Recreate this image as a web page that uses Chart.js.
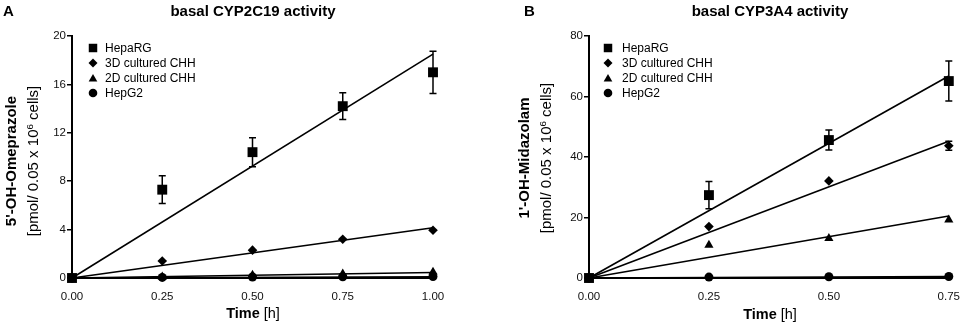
<!DOCTYPE html>
<html>
<head>
<meta charset="utf-8">
<script src="https://cdn.jsdelivr.net/npm/chart.js@4/dist/chart.umd.min.js"></script>
<style>
  html, body { margin:0; padding:0; background:#fff; }
  body { width:964px; height:324px; position:relative; overflow:hidden; font-family:"Liberation Sans", Arial, sans-serif; color:#000; }
  .pane { position:absolute; top:0; width:482px; height:324px; }
  .txt { position:absolute; white-space:nowrap; line-height:1; }
  .c { transform:translate(-50%,-50%); }
  .rot { transform:translate(-50%,-50%) rotate(-90deg); }
  .sup { font-size:0.65em; position:relative; top:-0.55em; }
</style>
</head>
<body>
<div class="pane" style="left:0"><canvas id="cA" width="482" height="324"></canvas></div>
<div class="pane" style="left:482px"><canvas id="cB" width="482" height="324"></canvas></div>

<div class="txt" style="left:3px;top:3px;font-size:15px;font-weight:bold">A</div>
<div class="txt c" style="left:253px;top:10px;font-size:15px;font-weight:bold">basal CYP2C19 activity</div>
<div class="txt rot" style="left:10px;top:161px;font-size:15px;font-weight:bold">5'-OH-Omeprazole</div>
<div class="txt rot" style="left:32px;top:161px;font-size:15px">[pmol/ 0.05 x 10<span class="sup">6</span> cells]</div>
<div class="txt c" style="left:253px;top:313px;font-size:14.5px"><b>Time</b> [h]</div>

<div class="txt" style="left:524px;top:3px;font-size:15px;font-weight:bold">B</div>
<div class="txt c" style="left:770px;top:10px;font-size:15px;font-weight:bold">basal CYP3A4 activity</div>
<div class="txt rot" style="left:523px;top:158px;font-size:15px;font-weight:bold">1'-OH-Midazolam</div>
<div class="txt rot" style="left:545px;top:158px;font-size:15px">[pmol/ 0.05 x 10<span class="sup">6</span> cells]</div>
<div class="txt c" style="left:770px;top:314px;font-size:14.5px"><b>Time</b> [h]</div>

<script>
// ---------- DATA ----------
const seriesNames = ["HepaRG", "3D cultured CHH", "2D cultured CHH", "HepG2"];

// Panel A: basal CYP2C19 activity (5'-OH-Omeprazole)
const timesA = [0, 0.25, 0.50, 0.75, 1.00];
const hepaRG_A = [0, 7.3, 10.4, 14.2, 17.0];
const hepaRG_A_err = [0, 1.15, 1.2, 1.1, 1.75];
const cult3D_A = [0, 1.4, 2.3, 3.2, 3.95];
const cult2D_A = [0, 0.1, 0.25, 0.35, 0.5];
const hepG2_A = [0, 0.05, 0.08, 0.1, 0.12];
const fitEndA = [18.5, 4.15, 0.45, 0.1];   // regression line values at last time
const yTicksA = [0, 4, 8, 12, 16, 20];
const xTicksA = [0, 0.25, 0.5, 0.75, 1.0];

// Panel B: basal CYP3A4 activity (1'-OH-Midazolam)
const timesB = [0, 0.25, 0.50, 0.75];
const hepaRG_B = [0, 27.4, 45.6, 65.1];
const hepaRG_B_err = [0, 4.5, 3.3, 6.6];
const cult3D_B = [0, 17.0, 32.1, 43.7];
const cult3D_B_err = [0, 0, 0, 1.5];
const cult2D_B = [0, 10.9, 13.1, 19.2];
const hepG2_B = [0, 0.3, 0.4, 0.5];
const fitEndB = [66.8, 45.2, 20.5, 0.5];
const yTicksB = [0, 20, 40, 60, 80];
const xTicksB = [0, 0.25, 0.5, 0.75];

// ---------- STYLE ----------
const styles = [
  { pointStyle: 'rect', radius: 7 },
  { pointStyle: 'rectRot', radius: 4.8 },
  { pointStyle: 'triangle', radius: 5.3 },
  { pointStyle: 'circle', radius: 4.5 }
];

function pts(xs, ys) { return xs.map((x, i) => ({ x: x, y: ys[i] })); }

function buildDatasets(times, series, errs, fitEnds) {
  const ds = [];
  series.forEach((vals, i) => {
    ds.push({
      type: 'scatter', label: seriesNames[i], data: pts(times, vals),
      errors: errs[i] || null,
      pointStyle: styles[i].pointStyle, pointRadius: styles[i].radius,
      pointHoverRadius: styles[i].radius,
      backgroundColor: '#000', borderColor: '#000', borderWidth: 0,
      showLine: false, clip: false, order: i
    });
  });
  series.forEach((vals, i) => {
    const xEnd = times[times.length - 1];
    ds.push({
      type: 'line', label: 'fit ' + seriesNames[i],
      data: [{ x: 0, y: 0 }, { x: xEnd, y: fitEnds[i] }],
      borderColor: '#000', borderWidth: 1.6, pointRadius: 0, fill: false,
      clip: false, order: 10 + i
    });
  });
  return ds;
}

const errorBarPlugin = {
  id: 'errbars',
  afterDatasetsDraw(chart) {
    const ctx = chart.ctx, xs = chart.scales.x, ys = chart.scales.y;
    ctx.save();
    ctx.strokeStyle = '#000'; ctx.lineWidth = 1.5;
    chart.data.datasets.forEach(d => {
      if (!d.errors) return;
      d.data.forEach((p, i) => {
        const e = d.errors[i];
        if (!e) return;
        const px = xs.getPixelForValue(p.x);
        const top = ys.getPixelForValue(p.y + e), bot = ys.getPixelForValue(p.y - e);
        ctx.beginPath();
        ctx.moveTo(px, top); ctx.lineTo(px, bot);
        ctx.moveTo(px - 3.5, top); ctx.lineTo(px + 3.5, top);
        ctx.moveTo(px - 3.5, bot); ctx.lineTo(px + 3.5, bot);
        ctx.stroke();
      });
    });
    ctx.restore();
  }
};

function drawMarker(ctx, style, r, x, y) {
  ctx.beginPath();
  if (style === 'rect') { const s = Math.SQRT1_2 * r; ctx.rect(x - s, y - s, 2 * s, 2 * s); }
  else if (style === 'rectRot') { ctx.moveTo(x, y - r); ctx.lineTo(x + r, y); ctx.lineTo(x, y + r); ctx.lineTo(x - r, y); ctx.closePath(); }
  else if (style === 'triangle') {
    ctx.moveTo(x, y - r); ctx.lineTo(x + r * Math.sin(2 * Math.PI / 3), y + r / 2);
    ctx.lineTo(x - r * Math.sin(2 * Math.PI / 3), y + r / 2); ctx.closePath();
  }
  else { ctx.arc(x, y, r, 0, Math.PI * 2); }
  ctx.fill();
}

function legendPlugin(markerX, textX) {
  return {
    id: 'innerLegend',
    afterDraw(chart) {
      const ctx = chart.ctx;
      ctx.save();
      ctx.fillStyle = '#000';
      ctx.font = '12px "Liberation Sans", Arial, sans-serif';
      ctx.textBaseline = 'middle';
      seriesNames.forEach((n, i) => {
        const y = 48 + i * 15;
        const rr = [6, 4.5, 5, 4.3][i];
        drawMarker(ctx, styles[i].pointStyle, rr, markerX, y + (i === 2 ? 1 : 0));
        ctx.fillText(n, textX, y + 1);
      });
      ctx.restore();
    }
  };
}

function makeChart(id, times, series, errs, fitEnds, yTicks, xTicks, yWidth, padRight, legX, legTX) {
  const yMax = yTicks[yTicks.length - 1];
  const xMax = xTicks[xTicks.length - 1];
  return new Chart(document.getElementById(id), {
    data: { datasets: buildDatasets(times, series, errs, fitEnds) },
    options: {
      responsive: false, animation: false,
      layout: { padding: { left: 0, top: 36, right: padRight, bottom: 0 } },
      plugins: { legend: { display: false }, tooltip: { enabled: false }, title: { display: false } },
      scales: {
        x: {
          type: 'linear', min: 0, max: xMax,
          afterBuildTicks: s => { s.ticks = xTicks.map(v => ({ value: v })); },
          afterFit: s => { s.height = 46; },
          grid: { display: false },
          border: { display: true, color: '#000', width: 2 },
          ticks: { color: '#111', font: { size: 11.5, family: '"Liberation Sans", Arial, sans-serif' }, padding: 4, maxRotation: 0, autoSkip: false,
                   callback: v => Number(v).toFixed(2) }
        },
        y: {
          type: 'linear', min: 0, max: yMax,
          afterBuildTicks: s => { s.ticks = yTicks.map(v => ({ value: v })); },
          afterFit: s => { s.width = yWidth; },
          grid: { display: true, drawOnChartArea: false, drawTicks: true, tickLength: 5, color: '#000', lineWidth: 1.5 },
          border: { display: true, color: '#000', width: 2 },
          ticks: { color: '#111', font: { size: 11.5, family: '"Liberation Sans", Arial, sans-serif' }, padding: 1, autoSkip: false,
                   callback: v => String(v) }
        }
      }
    },
    plugins: [errorBarPlugin, legendPlugin(legX, legTX)]
  });
}

makeChart('cA', timesA, [hepaRG_A, cult3D_A, cult2D_A, hepG2_A], [hepaRG_A_err, null, null, null],
          fitEndA, yTicksA, xTicksA, 72, 49, 93, 105);
makeChart('cB', timesB, [hepaRG_B, cult3D_B, cult2D_B, hepG2_B], [hepaRG_B_err, cult3D_B_err, null, null],
          fitEndB, yTicksB, xTicksB, 107, 14, 126, 140);
</script>
</body>
</html>
